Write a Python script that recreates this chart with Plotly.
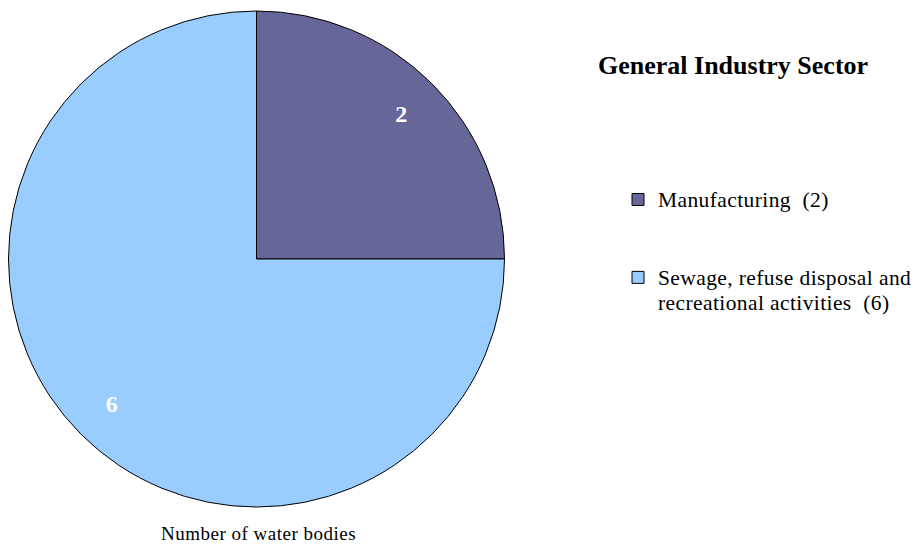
import plotly.graph_objects as go

categories = ["Manufacturing", "Sewage, refuse disposal and<br>recreational activities"]
values = [2, 6]
colors = ["#666699", "#99CCFF"]
legend_title = "General Industry Sector"
axis_caption = "Number of water bodies"

FONT = "Liberation Serif, Times New Roman, serif"
W, H = 912, 536  # page body adds an 8px margin

# legend text: category plus count; first entry padded for the wide spacing
labels = []
for i, (c, v) in enumerate(zip(categories, values)):
    t = f"<span style='font-size:21.5px;letter-spacing:0.4px'>{c}  ({v})</span>"
    if i == 0:
        t += "<br> <br> "
    labels.append(t)

dom = dict(x=[0.5 / W, 496.5 / W], y=[37 / H, 533 / H])

fig = go.Figure()
fig.add_trace(
    go.Pie(
        labels=labels,
        values=values,
        marker=dict(colors=colors, line=dict(color="#000000", width=1)),
        sort=False,
        direction="clockwise",
        rotation=0,
        textinfo="none",
        hoverinfo="label+value",
        domain=dom,
    )
)
# value labels placed in an outer ring over the same pie
fig.add_trace(
    go.Pie(
        labels=categories,
        values=values,
        hole=0.65,
        marker=dict(colors=["rgba(0,0,0,0)"] * len(values), line=dict(width=0)),
        sort=False,
        direction="clockwise",
        rotation=0,
        texttemplate="%{value}",
        textposition="inside",
        insidetextorientation="horizontal",
        textfont=dict(family=FONT, size=24, color="white", weight="bold"),
        hoverinfo="skip",
        showlegend=False,
        domain=dom,
    )
)

fig.update_layout(
    width=W,
    height=H,
    margin=dict(l=0, r=0, t=0, b=0),
    paper_bgcolor="white",
    plot_bgcolor="white",
    showlegend=True,
    legend=dict(
        x=610 / W,
        y=1 - 172.5 / H,
        xanchor="left",
        yanchor="top",
        valign="top",
        font=dict(family=FONT, size=19.2, color="black"),
        bgcolor="rgba(0,0,0,0)",
    ),
    annotations=[
        dict(
            text=f"<b>{legend_title}</b>",
            x=725 / W,
            y=1 - 57 / H,
            xref="paper",
            yref="paper",
            xanchor="center",
            yanchor="middle",
            showarrow=False,
            font=dict(family=FONT, size=26, color="black"),
        ),
        dict(
            text=f"<span style='letter-spacing:0.5px'>{axis_caption}</span>",
            x=250 / W,
            y=1 - 525 / H,
            xref="paper",
            yref="paper",
            xanchor="center",
            yanchor="middle",
            showarrow=False,
            font=dict(family=FONT, size=19, color="black"),
        ),
    ],
)

fig.write_html("out.html")
